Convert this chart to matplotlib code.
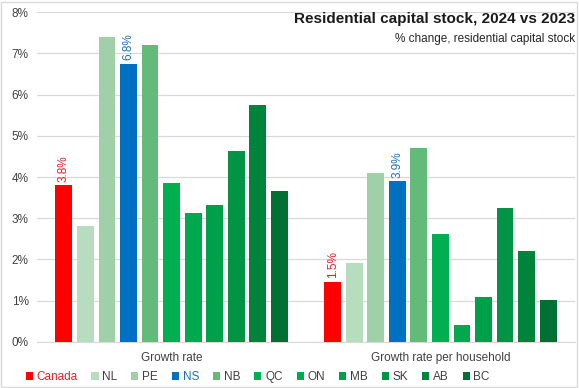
import matplotlib

matplotlib.use("Agg")
import matplotlib.pyplot as plt
import numpy as np
from matplotlib.patches import Rectangle

plt.rcParams["font.family"] = ["Liberation Sans", "DejaVu Sans"]

groups = ["Growth rate", "Growth rate per household"]
regions = ["Canada", "NL", "PE", "NS", "NB", "QC", "ON", "MB", "SK", "AB", "BC"]
growth = [3.8, 2.8, 7.4, 6.75, 7.2, 3.85, 3.12, 3.33, 4.63, 5.75, 3.66]
per_household = [1.46, 1.92, 4.1, 3.9, 4.7, 2.62, 0.42, 1.1, 3.26, 2.2, 1.01]
colors = ["#FF0000", "#B5DDBE", "#A0D0A8", "#0070C0", "#64BA78", "#00B050",
          "#00A84E", "#00A04A", "#009444", "#00843C", "#007033"]
labelled = {"Canada": "#E0202A", "NS": "#1F6FB5"}

fig = plt.figure(figsize=(5.79, 3.88), dpi=100)
ax = fig.add_axes([0.064, 0.1186, 0.929, 0.8504])

step = 0.08
width = 0.063
x = np.arange(len(groups))
values = np.array([growth, per_household])
for i, name in enumerate(regions):
    pos = x + (i - (len(regions) - 1) / 2) * step
    bars = ax.bar(pos, values[:, i], width=width, color=colors[i], label=name, zorder=3)
    if name in labelled:
        for b, v in zip(bars, values[:, i]):
            ax.text(b.get_x() + b.get_width() / 2, v + 0.08, f"{v:.1f}%",
                    rotation=90, ha="center", va="bottom", fontsize=8.5,
                    color=labelled[name])

ax.set_xlim(-0.5, 1.5)
ax.set_ylim(0, 8)
ax.set_yticks(range(0, 9))
ax.set_yticklabels([f"{v}%" for v in range(0, 9)], fontsize=8.5, color="#404040")
ax.set_xticks(x)
ax.set_xticklabels(groups, fontsize=8.5, color="#404040")
ax.tick_params(length=0, pad=6)
ax.tick_params(axis="x", pad=7)
ax.grid(axis="y", color="#D9D9D9", linewidth=0.9, zorder=0)
for side in ["top", "right", "left"]:
    ax.spines[side].set_visible(False)
ax.spines["bottom"].set_color("#D9D9D9")

fig.text(0.993, 0.952, "Residential capital stock, 2024 vs 2023", ha="right",
         va="center", fontsize=11, fontweight="bold", color="#1A1A1A")
fig.text(0.993, 0.9, "% change, residential capital stock", ha="right",
         va="center", fontsize=8.5, color="#262626")

leg = fig.legend(loc="center left", bbox_to_anchor=(0.036, 0.028), ncol=11,
                 frameon=False, fontsize=8.5, handlelength=0.6, handleheight=0.6,
                 handletextpad=0.3, columnspacing=1.2, borderaxespad=0)
for t in leg.get_texts():
    t.set_color(labelled.get(t.get_text(), "#404040"))

fig.patches.append(Rectangle((0.002, 0.003), 0.995, 0.992, transform=fig.transFigure,
                             fill=False, edgecolor="#D9D9D9", linewidth=1))

fig.savefig("out.png", dpi=100)
